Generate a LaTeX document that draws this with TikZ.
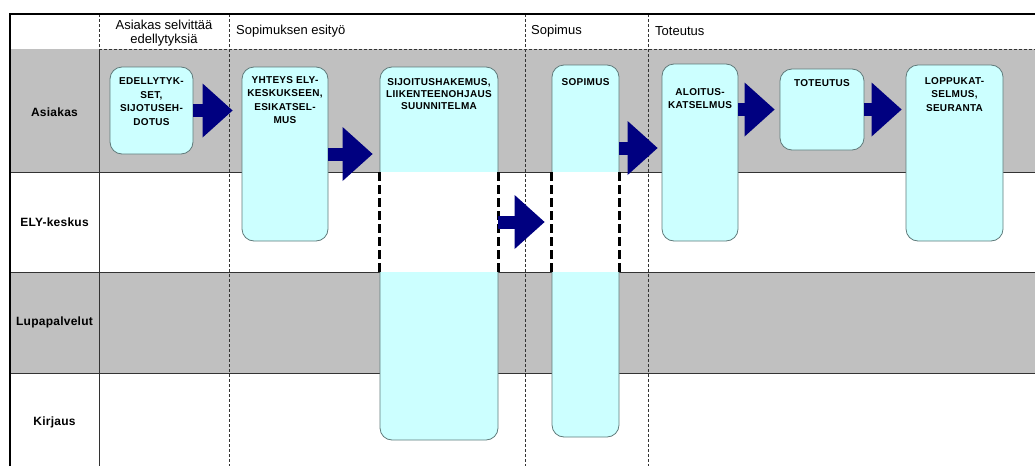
\documentclass[tikz,border=0pt]{standalone}
\usepackage{fontspec}
\setmainfont{Liberation Sans}
\newfontfamily\boxfont[LetterSpace=3]{Liberation Sans}
\newfontfamily\lanefont[LetterSpace=2]{Liberation Sans}
\usetikzlibrary{arrows.meta,calc}
\definecolor{lanegray}{HTML}{C0C0C0}
\definecolor{stepfill}{HTML}{CCFFFF}
\definecolor{stepline}{HTML}{5F7A7A}
\definecolor{flownavy}{HTML}{000080}
\definecolor{gridline}{HTML}{333333}
\tikzset{
  stepbox/.style={draw=stepline, line width=0.8pt, fill=stepfill,
    rounded corners=12pt, inner sep=0pt},
  steptext/.style={font={\boxfont\bfseries\fontsize{10}{13.5}\selectfont},
    align=center, inner sep=0pt, anchor=north},
  lanelabel/.style={font={\lanefont\bfseries\fontsize{12}{14}\selectfont}},
  phasetext/.style={font={\fontsize{13}{14.5}\selectfont}, inner sep=0pt},
  phaseline/.style={gridline, line width=0.6pt, dash pattern=on 3pt off 2pt},
  laneline/.style={gridline, line width=0.9pt},
  openedge/.style={black, line width=2.4pt, dash pattern=on 9pt off 4pt},
  flow/.style={flownavy, line width=13pt,
    -{Triangle[length=30pt, width=54pt, line width=0pt]}},
}
\begin{document}
\begin{tikzpicture}[x=1pt, y=-1pt]
\useasboundingbox (0,0) rectangle (1035,466);

% swimlane bands
\fill[lanegray] (10,49) rectangle (1035,172);
\fill[lanegray] (10,272) rectangle (1035,373);

% grid coordinates
\coordinate (l1) at (0,172);
\coordinate (l2) at (0,272);
\coordinate (a4y) at (0,148);

% lane separators
\draw[laneline] (10,172) -- (1035,172);
\draw[laneline] (10,272) -- (1035,272);
\draw[laneline] (10,373) -- (1035,373);
\draw[laneline] (99,49) -- (99,466);
\draw[phaseline] (99,14) -- (99,49);
\draw[phaseline] (99,49) -- (1035,49);

% phase separators
\draw[phaseline] (229,14) -- (229,466);
\draw[phaseline] (525,14) -- (525,466);
\draw[phaseline] (648,14) -- (648,466);

% outer frame
\draw[black, line width=2pt] (10,466) -- (10,14) -- (1035,14);

% phase headings
\node[phasetext, align=center] at (164,33) {Asiakas selvittää\\edellytyksiä};
\node[phasetext, anchor=west] at (236,31) {Sopimuksen esityö};
\node[phasetext, anchor=west] at (531,31) {Sopimus};
\node[phasetext, anchor=west] at (655,31) {Toteutus};

% lane labels
\node[lanelabel] (asiakas) at (54.5,112) {Asiakas};
\node[lanelabel] (ely) at (54.5,222) {ELY-keskus};
\node[lanelabel] (lupa) at (54.5,322) {Lupapalvelut};
\node[lanelabel] (kirjaus) at (54.5,422) {Kirjaus};

% process steps
\node[stepbox, minimum width=83pt, minimum height=87pt,
  label={[steptext, yshift=-11pt]north:{EDELLYTYK-\\SET,\\SIJOTUSEH-\\DOTUS}}]
  (b1) at (151.5,110.5) {};
\node[stepbox, minimum width=86pt, minimum height=174pt,
  label={[steptext, yshift=-9.5pt]north:{YHTEYS ELY-\\KESKUKSEEN,\\ESIKATSEL-\\MUS}}]
  (b2) at (285,154) {};
\node[stepbox, minimum width=118pt, minimum height=373pt,
  label={[steptext, yshift=-11.5pt, font={\boxfont\bfseries\fontsize{10}{12.2}\selectfont}]north:{SIJOITUSHAKEMUS,\\LIIKENTEENOHJAUS\\SUUNNITELMA}}]
  (b3) at (439,253.5) {};
\node[stepbox, minimum width=67pt, minimum height=372pt,
  label={[steptext, yshift=-13.5pt]north:{SOPIMUS}}]
  (b4) at (585.5,251) {};
\node[stepbox, minimum width=76pt, minimum height=177pt,
  label={[steptext, yshift=-24.5pt]north:{ALOITUS-\\KATSELMUS}}]
  (b5) at (700,152.5) {};
\node[stepbox, minimum width=84pt, minimum height=81pt,
  label={[steptext, yshift=-10.5pt]north:{TOTEUTUS}}]
  (b6) at (822,109.5) {};
\node[stepbox, minimum width=97pt, minimum height=176pt,
  label={[steptext, yshift=-12.5pt]north:{LOPPUKAT-\\SELMUS,\\SEURANTA}}]
  (b7) at (954.5,153) {};

% open sections in the ELY lane
\fill[white] ($(b3.west |- l1)+(-1,0)$) rectangle ($(b3.east |- l2)+(1,0)$);
\draw[openedge] (b3.west |- l1) -- (b3.west |- l2);
\draw[openedge] (b3.east |- l1) -- (b3.east |- l2);
\fill[white] ($(b4.west |- l1)+(-1,0)$) rectangle ($(b4.east |- l2)+(1,0)$);
\draw[openedge] (b4.west |- l1) -- (b4.west |- l2);
\draw[openedge] (b4.east |- l1) -- (b4.east |- l2);

% flow arrows
\draw[flow] (b1.east) -- ($(b2.west |- b1.east)+(-9,0)$);
\draw[flow] (b2.east) -- ($(b3.west |- b2.east)+(-7,0)$);
\draw[flow] (b3.east |- ely) -- ($(b4.west |- ely)+(-7,0)$);
\draw[flow] (b4.east |- a4y) -- ($(b5.west |- a4y)+(-4,0)$);
\draw[flow] (b5.east |- b6.west) -- ($(b6.west)+(-5,0)$);
\draw[flow] (b6.east) -- ($(b7.west |- b6.east)+(-4,0)$);
\end{tikzpicture}
\end{document}
